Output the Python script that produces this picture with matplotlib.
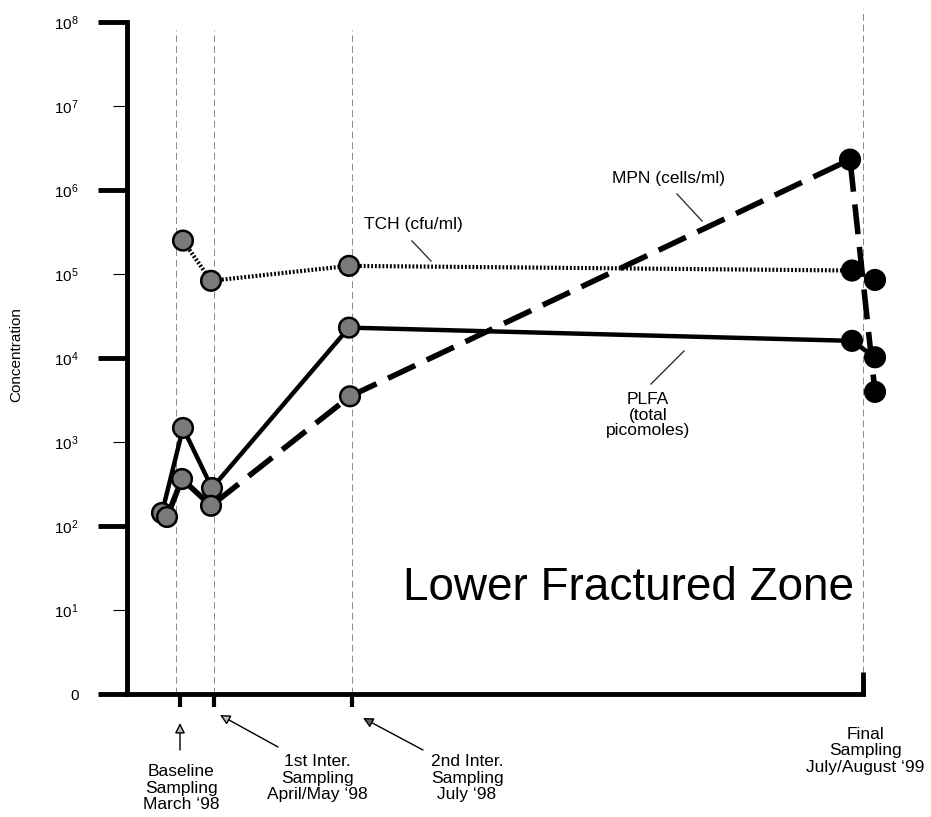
import matplotlib
matplotlib.use('Agg')
import matplotlib.pyplot as plt
import matplotlib.transforms as mtransforms

plt.rcParams['font.family'] = ['Liberation Sans', 'DejaVu Sans']
plt.rcParams['mathtext.fontset'] = 'custom'
plt.rcParams['mathtext.rm'] = 'Liberation Sans'

# ---------------- data ----------------
sampling_labels = ["Baseline\nSampling\nMarch \u201898",
                   "1st Inter.\nSampling\nApril/May \u201898",
                   "2nd Inter.\nSampling\nJuly \u201898",
                   "Final\nSampling\nJuly/August \u201899"]
sampling_x = [53, 87, 225, 736]          # schematic time axis positions

tch_x = [56, 84, 222, 725, 748]
tch_y = [2.5e5, 8.3e4, 1.25e5, 1.1e5, 8.5e4]

plfa_x = [35, 56, 85, 222, 725, 748]
plfa_y = [143, 1470, 283, 2.3e4, 1.6e4, 1.02e4]

mpn_x = [40, 55, 84, 223, 723, 748]
mpn_y = [128, 363, 174, 3.5e3, 2.3e6, 3.95e3]

ytick_exps = list(range(0, 9))
ytick_labels = ['0'] + [r'$\mathregular{10^{%d}}$' % e for e in ytick_exps[1:]]

series_labels = ["TCH (cfu/ml)", "MPN (cells/ml)", "PLFA\n(total\npicomoles)"]
title = "Lower Fractured Zone"
ylabel = "Concentration"

# ---------------- figure ----------------
W, H = 931, 817
fig = plt.figure(figsize=(W / 100, H / 100), dpi=100)
ax = fig.add_axes([127 / W, (H - 694) / H, 773 / W, (694 - 9.4) / H])
ax.set_yscale('log')
ax.set_ylim(1, 10 ** 8.15)
ax.set_xlim(0, 773)

# guide lines
for i, sx in enumerate(sampling_x):
    top = 10 ** 8.15 if i == len(sampling_x) - 1 else 10 ** 7.9
    gx = sx - 4 if i == 0 else sx
    ax.plot([gx, gx], [1, top], color='#8a8a8a', lw=0.7, ls=(0, (7, 4)), zorder=1)

# series lines
ax.plot(tch_x, tch_y, color='black', lw=3.0, ls=(0, (0.45, 0.45)), zorder=2,
        dash_capstyle='butt')
ax.plot(plfa_x, plfa_y, color='black', lw=3.2, zorder=2)
ax.plot(mpn_x, mpn_y, color='black', lw=4.0, ls=(0, (5.4, 2.3)), zorder=2,
        dash_capstyle='butt')

# markers (last two points = final sampling, drawn black)
for xs, ys in [(tch_x, tch_y), (plfa_x, plfa_y), (mpn_x, mpn_y)]:
    n = len(xs)
    fcs = ['#7a7a7a'] * (n - 2) + ['black'] * 2
    ax.scatter(xs, ys, s=200, c=fcs, edgecolors='black', linewidths=1.8,
               zorder=3, clip_on=False)

# spines
for s in ['top', 'right']:
    ax.spines[s].set_visible(False)
ax.spines['left'].set_linewidth(3.5)
ax.spines['bottom'].set_linewidth(3.5)
ax.spines['left'].set_bounds(1, 1e8)
ax.spines['bottom'].set_bounds(0, sampling_x[-1])
ax.plot([sampling_x[-1]] * 2, [1, 10 ** 0.26], color='black', lw=3.5,
        solid_capstyle='butt', clip_on=False, zorder=4)

# y ticks
major = [10.0 ** e for e in ytick_exps if e % 2 == 0]
minor = [10.0 ** e for e in ytick_exps if e % 2 == 1]
ax.set_yticks(major, [l for e, l in zip(ytick_exps, ytick_labels) if e % 2 == 0])
ax.set_yticks(minor, [l for e, l in zip(ytick_exps, ytick_labels) if e % 2 == 1],
              minor=True)
ax.tick_params(axis='y', which='major', length=21, width=3.5, pad=14, labelsize=11)
ax.tick_params(axis='y', which='minor', length=10, width=0.8, pad=25, labelsize=11)

# x ticks
ax.set_xticks(sampling_x[:3], [''] * 3)
ax.tick_params(axis='x', which='major', length=9.5, width=3, direction='out')
ax.tick_params(axis='x', which='minor', length=0)

# y label
fig.text(16 / W, (H - 355) / H, ylabel, rotation=90, ha='center', va='center',
         fontsize=11)

# title
fig.text(403 / W, (H - 600) / H, title, ha='left', va='baseline', fontsize=33)

# sampling annotations
tr = mtransforms.blended_transform_factory(ax.transData, fig.dpi_scale_trans)
px = lambda y: (H - y) / 100.0
text_pos = [(54, 788), (190, 778), (340, 778), (738, 751)]
arrows = [((53, 723), (53, 750), '#c0c0c0'),
          ((93, 715), (151, 747), '#c0c0c0'),
          ((236, 718), (296, 750), '#606060')]
for lab, (tx, ty) in zip(sampling_labels, text_pos):
    ax.text(tx, px(ty), lab, transform=tr, ha='center', va='center',
            fontsize=12.5, linespacing=1.15, clip_on=False)
for (tip, tail, fc) in arrows:
    ax.annotate('', xy=(tip[0], px(tip[1])), xycoords=tr,
                xytext=(tail[0], px(tail[1])), textcoords=tr,
                arrowprops=dict(arrowstyle='-|>', fc=fc, ec='black', lw=1.0,
                                mutation_scale=15, shrinkA=0, shrinkB=0))

# series labels and leader lines
lab_pos = [(286, 224, 'center'), (541, 179, 'center'), (521, 392, 'top')]
leaders = [((285, 241), (304, 261)), ((550, 194), (575, 221)),
           ((557, 351), (524, 384))]
for lab, (lx, ly, va) in zip(series_labels, lab_pos):
    ax.text(lx, px(ly), lab, transform=tr, ha='center', va=va, fontsize=12.5,
            linespacing=1.05)
for (a, b) in leaders:
    ax.plot([a[0], b[0]], [px(a[1]), px(b[1])], transform=tr, color='#333333',
            lw=1.0, clip_on=False)

fig.savefig('out.png', dpi=100)
